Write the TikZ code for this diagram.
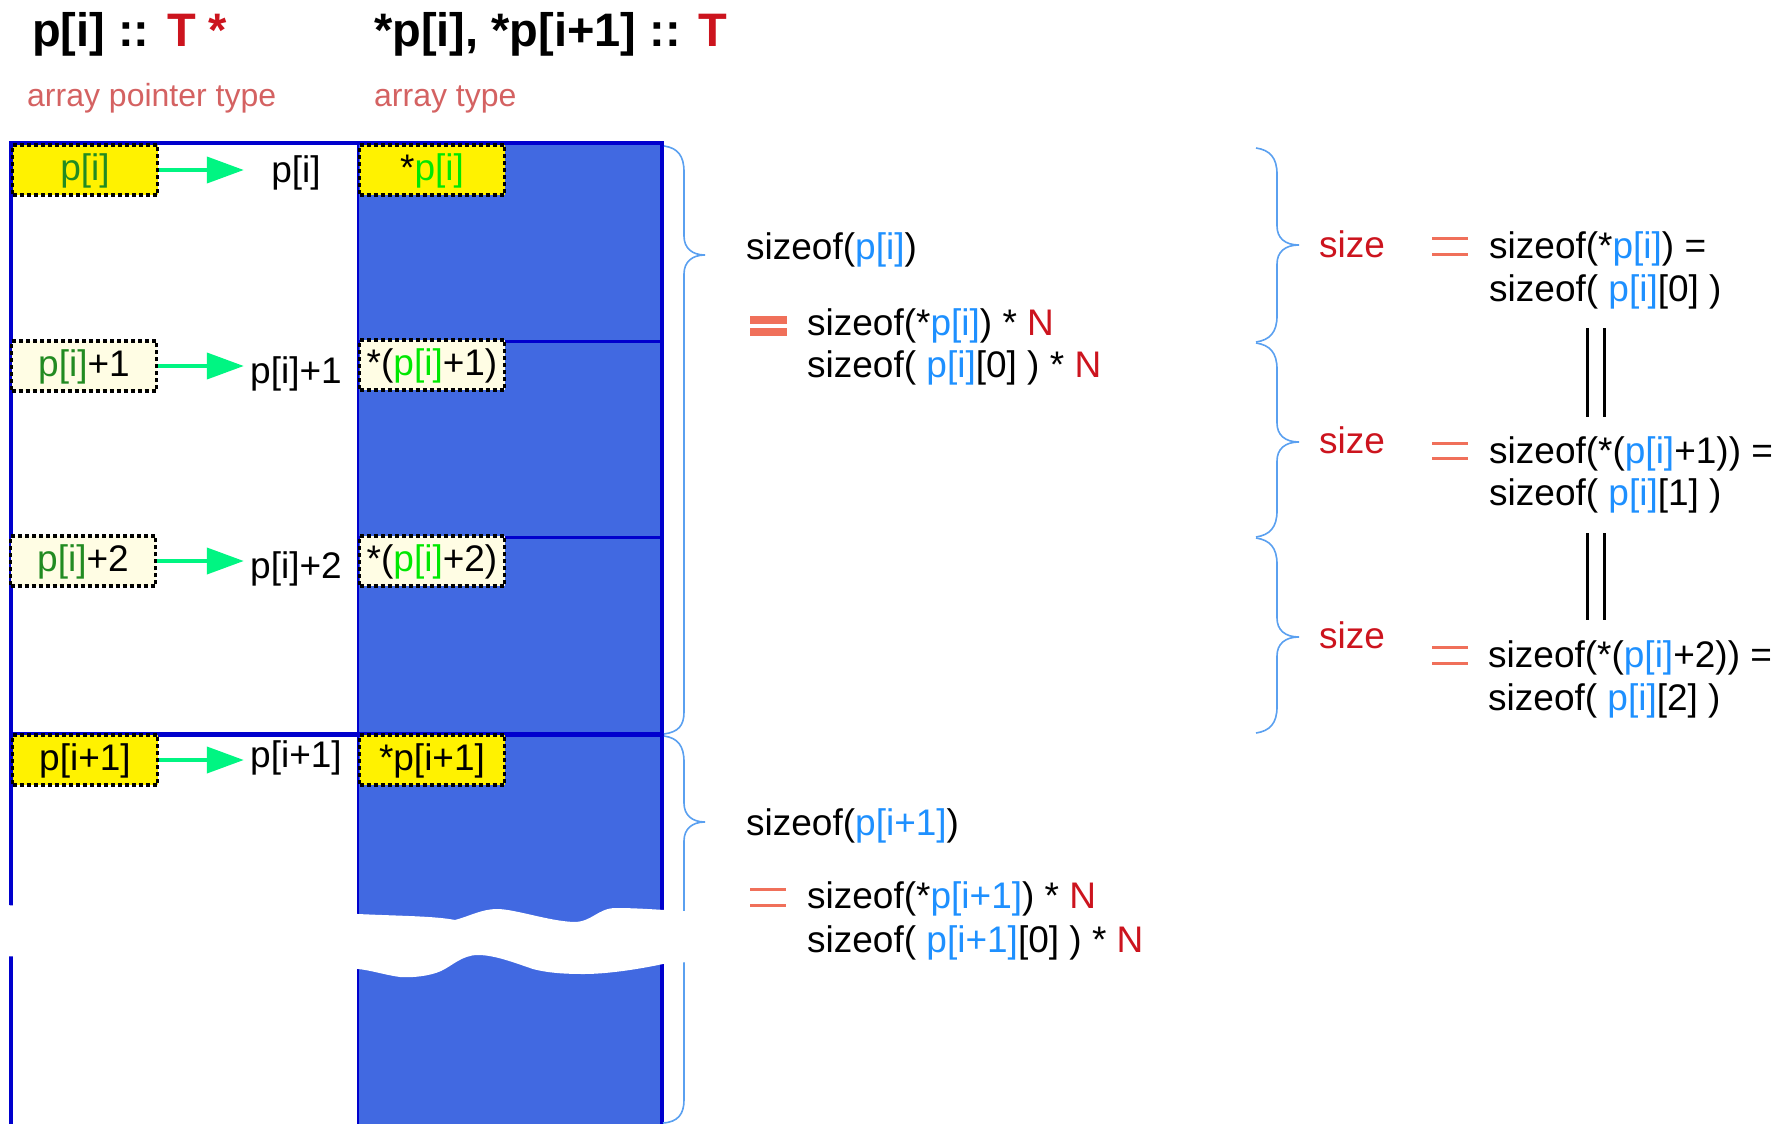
\documentclass[tikz,border=0pt]{standalone}
\usepackage{fontspec}
\setmainfont{Liberation Sans}
\usetikzlibrary{arrows.meta}
\definecolor{fillblue}{RGB}{65,105,225}
\definecolor{edgeblue}{RGB}{0,0,205}
\definecolor{tred}{RGB}{204,20,30}
\definecolor{tpink}{RGB}{212,98,98}
\definecolor{tblue}{RGB}{30,144,255}
\definecolor{dgreen}{RGB}{34,139,34}
\definecolor{lgreen}{RGB}{0,232,0}
\definecolor{argreen}{RGB}{0,245,130}
\definecolor{eqred}{RGB}{240,112,90}
\definecolor{brblue}{RGB}{90,160,240}
\definecolor{pale}{RGB}{255,253,228}
\tikzset{
  title/.style={font=\fontsize{47}{52}\selectfont\bfseries, inner sep=0pt, anchor=base west},
  subtitle/.style={font=\fontsize{32}{36}\selectfont, text=tpink, inner sep=0pt, anchor=base west},
  expr/.style={font=\fontsize{37}{42}\selectfont, inner sep=0pt, anchor=base west},
  ptrbox/.style={draw=black, line width=3.6pt, dash pattern=on 4pt off 3pt, fill=yellow,
    minimum width=145pt, minimum height=50pt, inner sep=0pt, text height=28pt, text depth=8pt,
    font=\fontsize{37}{42}\selectfont},
  palebox/.style={ptrbox, fill=pale},
  addr/.style={font=\fontsize{37}{42}\selectfont, inner sep=0pt, minimum width=92pt, anchor=base},
  ptrarrow/.style={draw=argreen, line width=4pt, -{Triangle[length=37pt,width=26pt]}, shorten >=6pt},
  frame/.style={draw=edgeblue, line width=4pt},
  sizebrace/.style={draw=brblue, line width=1.6pt},
  eqbar/.style={draw=eqred, line width=3pt},
}
\begin{document}
\begin{tikzpicture}[x=1pt,y=-1pt]
\useasboundingbox (0,0) rectangle (1788,1124);

\node[title] (ttype) at (32,47) {p[i] :: \textcolor{tred}{T *}};
\node[title] (tarr) at (374,47) {*p[i], *p[i+1] :: \textcolor{tred}{T}};
\node[subtitle] (sptr) at (27,106) {array pointer type};
\node[subtitle] (sarr) at (374,106) {array type};

\fill[fillblue] (358,143) rectangle (662,1124);
\draw[frame] (11,1124) -- (11,143) -- (662,143) -- (662,1124);
\draw[frame, line width=2.5pt] (358,143) -- (358,1124);
\draw[frame, line width=3pt] (358,341) -- (662,341);
\draw[frame, line width=3pt] (358,537) -- (662,537);
\draw[frame, line width=5pt] (11,734) -- (662,734);

\node[ptrbox] (p0) at (85,170) {\textcolor{dgreen}{p[i]}};
\node[palebox] (p1) at (84,366) {\textcolor{dgreen}{p[i]}+1};
\node[palebox] (p2) at (83,561) {\textcolor{dgreen}{p[i]}+2};
\node[ptrbox] (q0) at (85,760) {p[i+1]};

\node[ptrbox] (a0) at (432,170) {*\textcolor{lgreen}{p[i]}};
\node[palebox] (a1) at (432,365) {*(\textcolor{lgreen}{p[i]}+1)};
\node[palebox] (a2) at (432,561) {*(\textcolor{lgreen}{p[i]}+2)};
\node[ptrbox] (b0) at (432,760) {*p[i+1]};

\node[addr] (lp0) at (296,182) {p[i]};
\node[addr] (lp1) at (296,383) {p[i]+1};
\node[addr] (lp2) at (296,578) {p[i]+2};
\node[addr] (lq0) at (296,767) {p[i+1]};

\draw[ptrarrow] (p0.east) -- (p0.east -| lp0.west);
\draw[ptrarrow] (p1.east) -- (p1.east -| lp1.west);
\draw[ptrarrow] (p2.east) -- (p2.east -| lp2.west);
\draw[ptrarrow] (q0.east) -- (q0.east -| lq0.west);

\draw[sizebrace] (664,146) .. controls (678,148) and (684,156) .. (684,172) -- (684,236)
  .. controls (684,248) and (692,255) .. (705,255) .. controls (692,255) and (684,262) .. (684,274)
  -- (684,712) .. controls (684,726) and (678,732) .. (664,734);
\draw[sizebrace] (664,736) .. controls (678,738) and (684,746) .. (684,762) -- (684,803)
  .. controls (684,815) and (692,822) .. (705,822) .. controls (692,822) and (684,829) .. (684,841)
  -- (684,1100) .. controls (684,1114) and (678,1122) .. (663,1123);
\draw[sizebrace] (1256,148) .. controls (1270,150) and (1277,158) .. (1277,174) -- (1277,226)
  .. controls (1277,238) and (1285,245) .. (1299,245) .. controls (1285,245) and (1277,252) .. (1277,264)
  -- (1277,316) .. controls (1277,332) and (1270,340) .. (1256,342);
\draw[sizebrace] (1256,343) .. controls (1270,345) and (1277,353) .. (1277,369) -- (1277,423)
  .. controls (1277,435) and (1285,442) .. (1299,442) .. controls (1285,442) and (1277,449) .. (1277,461)
  -- (1277,511) .. controls (1277,527) and (1270,535) .. (1256,537);
\draw[sizebrace] (1256,538) .. controls (1270,540) and (1277,548) .. (1277,564) -- (1277,618)
  .. controls (1277,630) and (1285,637) .. (1299,637) .. controls (1285,637) and (1277,644) .. (1277,656)
  -- (1277,707) .. controls (1277,723) and (1270,731) .. (1256,733);

\fill[white] (0,905) -- (358,914) .. controls (400,916) and (435,916) .. (455,920)
  .. controls (470,916) and (482,909) .. (497,909) .. controls (515,909) and (548,921) .. (574,922)
  .. controls (592,922) and (598,908) .. (616,908) .. controls (640,908) and (660,910) .. (700,912)
  -- (700,961) -- (663,964) .. controls (635,970) and (605,974) .. (584,974)
  .. controls (565,974) and (548,973) .. (533,969) .. controls (515,963) and (495,955) .. (478,955)
  .. controls (462,955) and (452,966) .. (441,971) .. controls (430,976) and (412,978) .. (400,977)
  .. controls (385,975) and (370,970) .. (358,969) -- (0,956) -- cycle;

\node[expr] (szp) at (746,259) {sizeof(\textcolor{tblue}{p[i]})};
\draw[eqbar, line width=8pt] (750,319.5) -- (787,319.5) (750,332) -- (787,332);
\node[expr] (szpa) at (807,335) {sizeof(*\textcolor{tblue}{p[i]}) * \textcolor{tred}{N}};
\node[expr] (szpb) at (807,377) {sizeof( \textcolor{tblue}{p[i]}[0] ) * \textcolor{tred}{N}};

\node[expr] (szq) at (746,835) {sizeof(\textcolor{tblue}{p[i+1]})};
\draw[eqbar] (750,889) -- (786,889) (750,905) -- (786,905);
\node[expr] (szqa) at (807,908) {sizeof(*\textcolor{tblue}{p[i+1]}) * \textcolor{tred}{N}};
\node[expr] (szqb) at (807,952) {sizeof( \textcolor{tblue}{p[i+1]}[0] ) * \textcolor{tred}{N}};

\node[expr, text=tred] (sz0) at (1319,257) {size};
\node[expr, text=tred] (sz1) at (1319,453) {size};
\node[expr, text=tred] (sz2) at (1319,648) {size};
\draw[eqbar] (1432,238) -- (1468,238) (1432,254) -- (1468,254);
\draw[eqbar] (1432,443) -- (1468,443) (1432,458) -- (1468,458);
\draw[eqbar] (1432,647) -- (1468,647) (1432,663) -- (1468,663);

\node[expr] (el0a) at (1489,258) {sizeof(*\textcolor{tblue}{p[i]}) =};
\node[expr] (el0b) at (1489,301) {sizeof( \textcolor{tblue}{p[i]}[0] )};
\node[expr] (el1a) at (1489,463) {sizeof(*(\textcolor{tblue}{p[i]}+1)) =};
\node[expr] (el1b) at (1489,505) {sizeof( \textcolor{tblue}{p[i]}[1] )};
\node[expr] (el2a) at (1488,667) {sizeof(*(\textcolor{tblue}{p[i]}+2)) =};
\node[expr] (el2b) at (1488,710) {sizeof( \textcolor{tblue}{p[i]}[2] )};

\draw[line width=3pt] (1587,328) -- (1587,417) (1604,328) -- (1604,417);
\draw[line width=3pt] (1587,533) -- (1587,620) (1604,533) -- (1604,620);
\end{tikzpicture}
\end{document}
